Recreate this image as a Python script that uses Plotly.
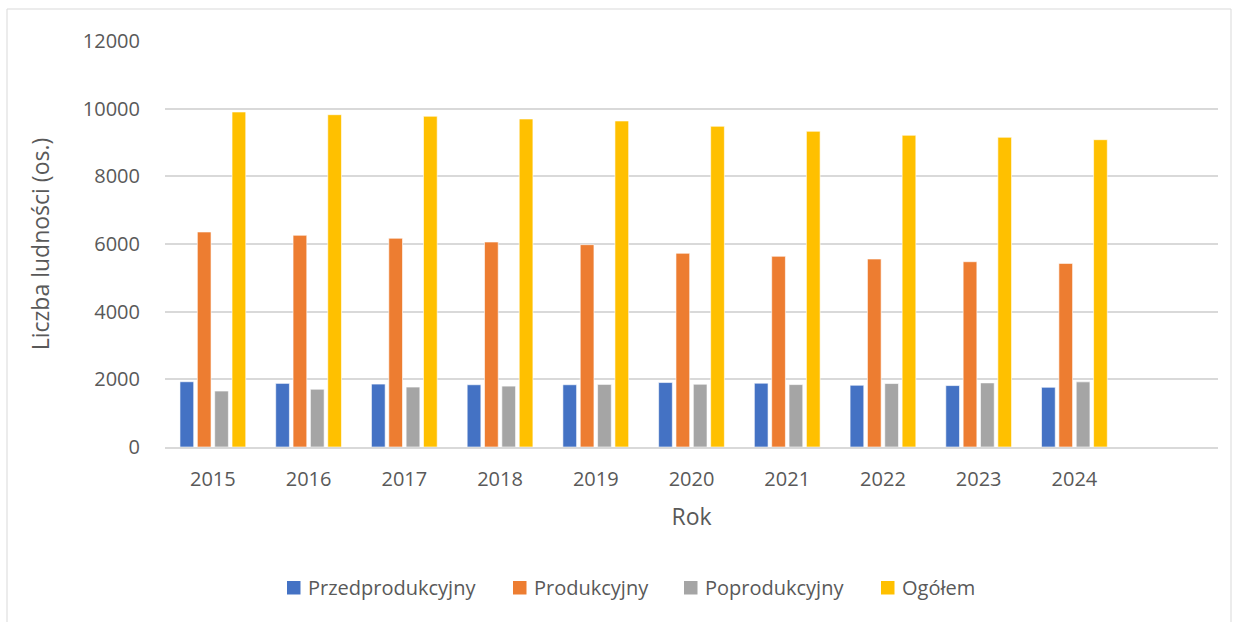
import plotly.graph_objects as go

years = ["2015", "2016", "2017", "2018", "2019", "2020", "2021", "2022", "2023", "2024"]
przedprodukcyjny = [1929, 1880, 1860, 1840, 1840, 1905, 1885, 1825, 1815, 1765]
produkcyjny = [6355, 6257, 6169, 6059, 5980, 5725, 5636, 5556, 5476, 5427]
poprodukcyjny = [1654, 1707, 1772, 1800, 1850, 1855, 1845, 1875, 1895, 1925]
ogolem = [9902, 9822, 9775, 9695, 9636, 9479, 9331, 9213, 9154, 9083]

series = [
    ("Przedprodukcyjny", przedprodukcyjny, "#4472C4"),
    ("Produkcyjny", produkcyjny, "#ED7D31"),
    ("Poprodukcyjny", poprodukcyjny, "#A5A5A5"),
    ("Ogółem", ogolem, "#FFC000"),
]

FONT = "Open Sans"
TXT = "#595959"

fig = go.Figure()
for name, vals, col in series:
    fig.add_trace(go.Bar(
        x=years, y=vals, name=name, showlegend=False,
        marker=dict(color=col, line=dict(color="rgba(255,255,255,0.6)", width=1)),
    ))

W, H = 1234, 622
L, R, T, B = 165, 16, 41, 175
pw = W - L - R
ph = H - T - B

def px(x):
    return (x - L) / pw

def py(y):
    return (H - B - y) / ph

# manual legend (layout positions)
legend_x = [287, 513, 684, 881]
shapes = [dict(
    type="rect", xref="paper", yref="paper",
    x0=px(7), x1=px(1231), y0=py(640), y1=py(9),
    line=dict(color="#D9D9D9", width=1), fillcolor="rgba(0,0,0,0)", layer="below",
)]
annotations = []
for (name, _, col), lx in zip(series, legend_x):
    shapes.append(dict(
        type="rect", xref="paper", yref="paper",
        x0=px(lx), x1=px(lx + 13.5), y0=py(594.5), y1=py(581),
        line=dict(width=0), fillcolor=col,
    ))
    annotations.append(dict(
        text=name, xref="paper", yref="paper", x=px(lx + 19), y=py(587.5),
        xanchor="left", yanchor="middle", showarrow=False,
        font=dict(family=FONT, size=20, color=TXT),
    ))

fig.update_layout(
    width=W, height=H,
    margin=dict(l=L, r=R, t=T, b=B),
    paper_bgcolor="white", plot_bgcolor="white",
    barmode="group", bargap=0.275, bargroupgap=0.21,
    font=dict(family=FONT, color=TXT, size=20),
    showlegend=False,
    xaxis=dict(
        type="category", range=[-0.5, 10.5],
        showgrid=False, showline=True, linecolor="#D9D9D9", linewidth=2,
        ticks="", tickfont=dict(size=20, color=TXT, family=FONT),
        ticklabelstandoff=13,
        title=dict(text="Rok", font=dict(size=23, color=TXT, family=FONT), standoff=18),
    ),
    yaxis=dict(
        range=[0, 12000], dtick=2000, tickformat="d",
        showgrid=True, gridcolor="#D9D9D9", gridwidth=1.5,
        zeroline=False, showline=False,
        ticks="", tickfont=dict(size=20, color=TXT, family=FONT),
        ticklabelstandoff=24,
        title=dict(text="Liczba ludności (os.)", font=dict(size=23, color=TXT, family=FONT), standoff=26),
    ),
    shapes=shapes,
    annotations=annotations,
)

fig.write_html(
    "out.html",
    config={"displayModeBar": False},
    post_script="document.body.style.margin='0';document.body.style.overflow='hidden';",
)
